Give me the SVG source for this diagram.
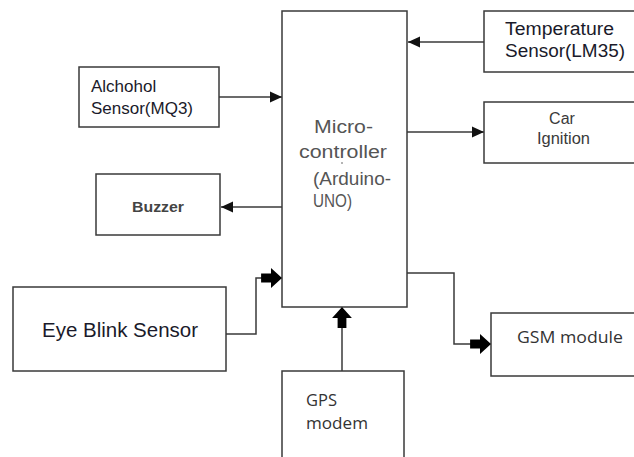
<svg xmlns="http://www.w3.org/2000/svg" width="634" height="457" viewBox="0 0 634 457">
<defs>
<style>
.box{fill:#fff;stroke:#3a3a3a;stroke-width:1.5}
.wire{fill:none;stroke:#3a3a3a;stroke-width:1.5}
.t{font-family:"Liberation Sans",Arial,sans-serif;fill:#1a1a2a}
.g{font-family:"Liberation Sans",Arial,sans-serif;fill:#555}
.d{font-family:"Liberation Sans",Arial,sans-serif;fill:#3a3a3a}
.c{font-family:"Open Sans","Liberation Sans",sans-serif;fill:#333}
</style>
<marker id="ah" markerUnits="userSpaceOnUse" markerWidth="12" markerHeight="12" viewBox="0 -5 10 10" refX="10" refY="0" orient="auto">
<path d="M0,-4.5 L10,0 L0,4.5 Z" fill="#111"/>
</marker>
<marker id="big" markerUnits="userSpaceOnUse" markerWidth="22" markerHeight="22" viewBox="0 -10 20 20" refX="19" refY="0" orient="auto">
<path d="M0,-4 L9,-4 L9,-9 L19,0 L9,9 L9,4 L0,4 Z" fill="#000"/>
</marker>
</defs>
<rect width="634" height="457" fill="#fff"/>
<g id="connectors">
<path class="wire" d="M219,97 H282" marker-end="url(#ah)"/>
<path class="wire" d="M282,207 H221" marker-end="url(#ah)"/>
<path class="wire" d="M484,42 H408" marker-end="url(#ah)"/>
<path class="wire" d="M407,132 H484" marker-end="url(#ah)"/>
<path class="wire" d="M226,334 H256 V278 H282" marker-end="url(#big)"/>
<path class="wire" d="M342,371 V307" marker-end="url(#big)"/>
<path class="wire" d="M407,273 H454 V344 H491" marker-end="url(#big)"/>
</g>
<g id="microcontroller">
<rect class="box" x="282" y="11" width="125" height="296"/>
<text class="g" font-size="18" x="314" y="133" textLength="59" lengthAdjust="spacingAndGlyphs">Micro-</text>
<text class="g" font-size="18" x="299" y="158" textLength="88" lengthAdjust="spacingAndGlyphs">controller</text>
<text class="g" font-size="18" x="313" y="185" textLength="78" lengthAdjust="spacingAndGlyphs">(Arduino-</text>
<text class="g" font-size="18" x="313" y="207" textLength="39" lengthAdjust="spacingAndGlyphs">UNO)</text>
<circle cx="342" cy="163" r="0.8" fill="#555"/>
</g>
<g id="alchohol">
<rect class="box" x="79" y="67" width="140" height="60"/>
<text class="t" font-size="17" x="91" y="92">Alchohol</text>
<text class="t" font-size="17" x="91" y="114">Sensor(MQ3)</text>
</g>
<g id="buzzer">
<rect class="box" x="96" y="174" width="124" height="61"/>
<text class="d" font-size="15" font-weight="bold" x="132" y="212" textLength="52" lengthAdjust="spacingAndGlyphs" fill="#444" style="fill:#444">Buzzer</text>
</g>
<g id="temperature">
<rect class="box" x="484" y="11" width="160" height="61"/>
<text class="t" font-size="18" x="505" y="35" textLength="109" lengthAdjust="spacingAndGlyphs">Temperature</text>
<text class="t" font-size="18" x="505" y="57" textLength="120" lengthAdjust="spacingAndGlyphs">Sensor(LM35)</text>
</g>
<g id="ignition">
<rect class="box" x="484" y="102" width="160" height="61"/>
<text class="d" font-size="16" x="562" y="124" text-anchor="middle">Car</text>
<text class="d" font-size="16" x="537" y="144" textLength="53" lengthAdjust="spacingAndGlyphs">Ignition</text>
</g>
<g id="eyeblink">
<rect class="box" x="13" y="287" width="213" height="84"/>
<text class="t" font-size="20" x="42" y="337" textLength="156" lengthAdjust="spacingAndGlyphs">Eye Blink Sensor</text>
</g>
<g id="gps">
<rect class="box" x="282" y="371" width="122" height="100"/>
<text class="c" font-size="16" x="306" y="406" textLength="31" lengthAdjust="spacingAndGlyphs">GPS</text>
<text class="c" font-size="16" x="306" y="429" textLength="62" lengthAdjust="spacingAndGlyphs">modem</text>
</g>
<g id="gsm">
<rect class="box" x="491" y="313" width="160" height="63"/>
<text class="c" font-size="16" x="517" y="343" textLength="106" lengthAdjust="spacingAndGlyphs">GSM module</text>
</g>
</svg>
